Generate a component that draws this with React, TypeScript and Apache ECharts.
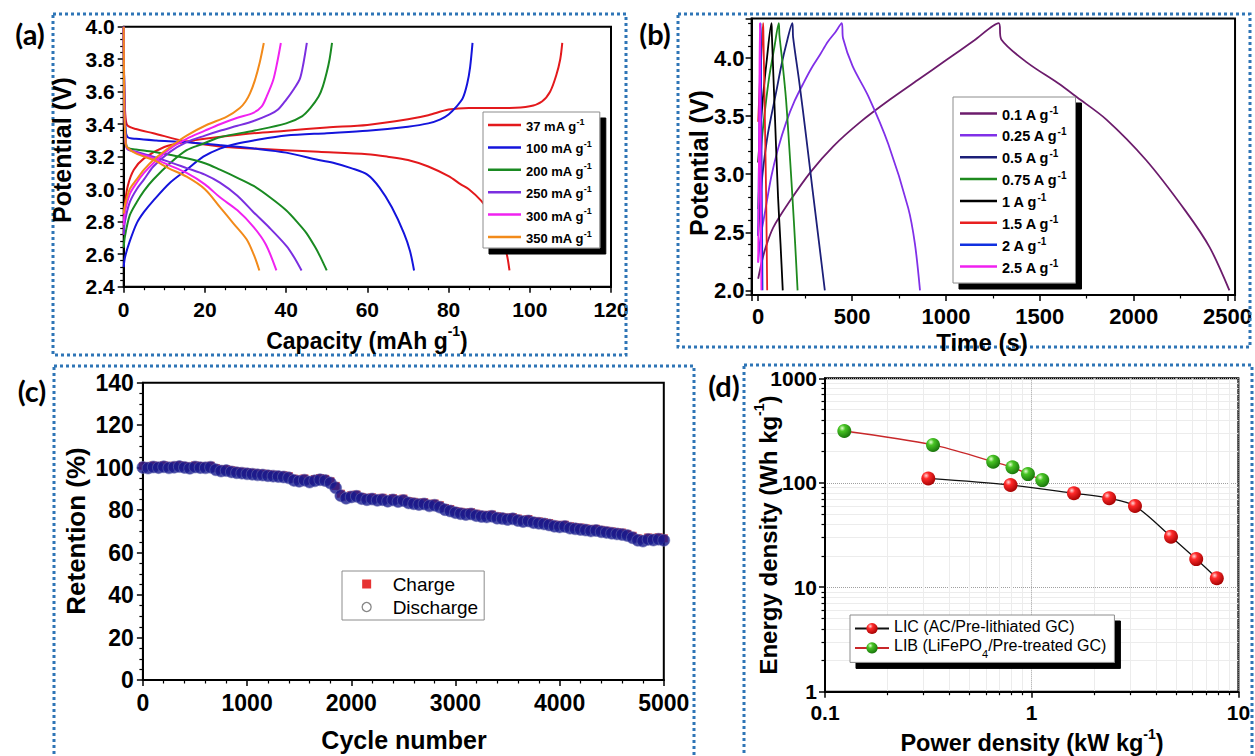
import React, { useEffect, useRef } from 'react';
import * as echarts from 'echarts';

// ---------------- (a) capacity curves ----------------
const capNames = ['37 mA g', '100 mA g', '200 mA g', '250 mA g', '300 mA g', '350 mA g'];
const charge37 = [[0,2.72],[0.3,2.9],[1,3.02],[2.5,3.12],[5,3.19],[10,3.26],[15,3.29],[20,3.31],[30,3.34],[40,3.36],[50,3.38],[60,3.395],[70,3.43],[75,3.455],[80,3.49],[85,3.5],[95,3.5],[100,3.51],[103,3.54],[105,3.6],[106.5,3.7],[107.5,3.8],[108,3.9]];
const discharge37 = [[0,4.0],[0.15,3.6],[0.5,3.43],[1,3.39],[3,3.37],[7.3,3.344],[15.5,3.293],[23.7,3.262],[32,3.25],[48,3.23],[60,3.215],[65,3.2],[70,3.18],[75,3.14],[80,3.08],[83,3.03],[85,3.0],[88,2.93],[90,2.86],[92,2.77],[93.5,2.68],[94.5,2.58],[95,2.5]];
const charge100 = [[0,2.52],[0.3,2.58],[1.5,2.68],[3.2,2.79],[5,2.86],[7.3,2.93],[11.4,3.04],[15.5,3.12],[19.6,3.2],[23.7,3.25],[27.8,3.28],[32,3.3],[40,3.33],[50,3.345],[60,3.36],[70,3.385],[75,3.405],[78,3.43],[80,3.46],[82,3.51],[83.5,3.56],[84.6,3.65],[85.3,3.75],[85.9,3.9]];
const discharge100 = [[0,4.0],[0.15,3.6],[0.5,3.36],[1,3.32],[3,3.31],[8,3.3],[15,3.29],[24,3.27],[32,3.25],[40,3.225],[48,3.18],[52,3.16],[56,3.13],[60,3.09],[63,3.01],[66,2.89],[69,2.73],[70.5,2.62],[71.5,2.5]];
const charge200 = [[0,2.64],[0.3,2.71],[1.5,2.84],[3.2,2.92],[5,2.99],[7.3,3.06],[11.4,3.16],[15.5,3.24],[19.6,3.28],[23.7,3.32],[32,3.36],[40,3.405],[44,3.45],[46,3.5],[48,3.57],[49,3.63],[50,3.72],[50.7,3.8],[51.3,3.9]];
const discharge200 = [[0,4.0],[0.15,3.55],[0.5,3.3],[1,3.255],[3,3.245],[7.3,3.23],[15.5,3.19],[20,3.16],[23.7,3.12],[28,3.07],[32,3.02],[36,2.95],[40,2.87],[43,2.79],[45,2.73],[47,2.65],[48.3,2.59],[50,2.5]];
const charge250 = [[0,2.72],[0.3,2.8],[1.5,2.92],[3.2,3.0],[5,3.06],[7.3,3.14],[11.4,3.23],[15.5,3.29],[20,3.33],[23.7,3.36],[28,3.39],[32,3.42],[36,3.46],[38,3.49],[40,3.55],[42,3.62],[43.4,3.68],[44.3,3.78],[45.1,3.9]];
const discharge250 = [[0,4.0],[0.15,3.55],[0.5,3.28],[1,3.245],[3,3.23],[7.3,3.2],[11,3.17],[15.5,3.13],[20,3.09],[23.7,3.04],[28,2.96],[31.9,2.86],[36,2.76],[40.1,2.65],[42,2.58],[43.8,2.5]];
const charge300 = [[0,2.78],[0.3,2.86],[1.5,2.97],[3.2,3.04],[5,3.1],[7.3,3.16],[11.4,3.25],[15.5,3.31],[20,3.36],[23.7,3.4],[28,3.44],[31.9,3.47],[34,3.51],[35.2,3.57],[36.8,3.67],[37.8,3.78],[38.7,3.9]];
const discharge300 = [[0,4.0],[0.15,3.55],[0.5,3.28],[1,3.25],[3,3.225],[7.3,3.19],[11,3.15],[15.5,3.1],[20,3.03],[23.7,2.95],[28,2.87],[31.9,2.77],[35,2.66],[37.6,2.5]];
const charge350 = [[0,2.85],[0.3,2.9],[1.5,3.0],[3.2,3.06],[5,3.12],[7.3,3.18],[11.4,3.26],[15.5,3.33],[20.4,3.395],[25.4,3.446],[28.6,3.5],[30,3.54],[31.1,3.59],[32.3,3.67],[33.5,3.78],[34.5,3.9]];
const discharge350 = [[0,4.0],[0.15,3.5],[0.5,3.28],[0.74,3.26],[3,3.22],[7.3,3.18],[11,3.13],[15.5,3.077],[20,3.0],[23.7,2.89],[27,2.79],[30.3,2.69],[32.3,2.58],[33.4,2.5]];
const capCharge = [charge37, charge100, charge200, charge250, charge300, charge350];
const capDischarge = [discharge37, discharge100, discharge200, discharge250, discharge300, discharge350];
const capColors = ['#e3191c', '#1414dc', '#1a8a22', '#7b2fe0', '#f022f0', '#f28a1a'];

// ---------------- (b) charge/discharge vs time ----------------
const timeNames = ['0.1 A g', '0.25 A g', '0.5 A g', '0.75 A g', '1 A g', '1.5 A g', '2 A g', '2.5 A g'];
const gcd01 = [[0,2.1],[20,2.25],[40,2.37],[80,2.54],[165,2.76],[280,3.02],[400,3.24],[545,3.45],[700,3.64],[850,3.81],[1000,3.98],[1150,4.15],[1281,4.3],[1295,4.16],[1433,3.96],[1600,3.78],[1700,3.66],[1855,3.47],[2067,3.12],[2278,2.68],[2405,2.37],[2510,2.0]];
const gcd025 = [[0,2.24],[12,2.45],[35,2.66],[70,2.98],[106,3.22],[150,3.45],[194,3.63],[240,3.78],[283,3.91],[330,4.03],[371,4.14],[410,4.22],[445,4.3],[452,4.17],[503,3.93],[587,3.67],[693,3.26],[799,2.71],[835,2.4],[862,2.0]];
const gcd05 = [[0,2.47],[8,2.7],[20,2.95],[35,3.16],[52,3.35],[71,3.51],[95,3.7],[124,3.94],[150,4.12],[182,4.3],[186,4.18],[220,3.78],[255,3.33],[290,2.86],[325,2.4],[355,2.0]];
const gcd075 = [[0,2.7],[8,3.0],[20,3.3],[40,3.6],[60,3.85],[85,4.08],[110,4.3],[113,4.2],[130,3.95],[148,3.65],[165,3.25],[183,2.79],[197,2.4],[210,2.0]];
const gcd1 = [[0,3.1],[10,3.35],[25,3.65],[45,3.97],[71,4.3],[73,4.2],[88,3.55],[106,2.8],[119,2.4],[131,2.0]];
const gcd15 = [[0,3.45],[8,3.75],[16,4.0],[26.5,4.3],[28,4.2],[36,3.45],[43,2.75],[48,2.0]];
const gcd2 = [[0,2.47],[4,3.1],[8,3.7],[13,4.3],[14,4.2],[18,3.2],[23,2.0]];
const gcd25 = [[0,2.24],[3,2.9],[6,3.6],[9,4.3],[10,4.2],[13,3.2],[17,2.0]];
const gcdCurves = [gcd01, gcd025, gcd05, gcd075, gcd1, gcd15, gcd2, gcd25];
const timeColors = ['#6c1c6c', '#8030e8', '#1c1f78', '#1e8a1e', '#000000', '#e82020', '#1030e0', '#f020f0'];

// ---------------- (c) cycling retention ----------------
const cycles = [0,50,100,150,200,250,300,350,400,450,500,550,600,650,700,750,800,850,900,950,1000,1050,1100,1150,1200,1250,1300,1350,1400,1450,1500,1550,1600,1650,1700,1750,1800,1850,1900,1950,2000,2050,2100,2150,2200,2250,2300,2350,2400,2450,2500,2550,2600,2650,2700,2750,2800,2850,2900,2950,3000,3050,3100,3150,3200,3250,3300,3350,3400,3450,3500,3550,3600,3650,3700,3750,3800,3850,3900,3950,4000,4050,4100,4150,4200,4250,4300,4350,4400,4450,4500,4550,4600,4650,4700,4750,4800,4850,4900,4950,5000];
const chargeRetention = [100.8,100.6,101.0,100.7,101.1,100.6,100.9,101.2,100.8,100.5,101.0,100.8,100.6,100.9,99.8,99.2,99.3,98.8,98.4,98.1,97.9,97.6,97.4,97.2,97.0,96.7,96.5,96.4,96.0,94.8,94.5,94.9,94.0,94.6,95.1,94.7,93.6,91.4,87.7,86.4,87.0,87.3,86.2,85.7,86.0,85.4,85.8,85.0,85.6,84.9,85.4,84.2,83.9,83.4,83.7,82.9,83.1,82.3,81.0,80.5,79.6,79.2,78.8,79.0,78.3,77.8,77.7,77.9,77.1,76.8,76.5,76.7,76.0,75.4,75.8,74.9,74.7,74.3,73.9,73.2,73.0,73.1,72.4,72.0,71.8,71.4,71.1,71.2,70.7,70.3,70.0,69.6,69.4,68.8,67.9,66.7,66.3,67.1,66.8,67.2,66.7];
const dischargeRetention = [100.1,99.8,100.3,100.0,100.4,99.9,100.2,100.5,100.1,99.7,100.3,100.0,99.9,100.2,99.0,98.4,98.6,98.0,97.6,97.4,97.1,96.9,96.6,96.5,96.2,96.0,95.8,95.6,95.2,94.0,93.6,94.1,93.2,93.8,94.3,93.9,92.8,90.5,86.8,85.6,86.2,86.5,85.4,84.9,85.2,84.6,84.9,84.2,84.8,84.0,84.5,83.4,83.0,82.6,82.9,82.0,82.3,81.4,80.2,79.6,78.8,78.3,77.9,78.2,77.4,77.0,76.8,77.1,76.2,76.0,75.6,75.9,75.1,74.6,74.9,74.1,73.8,73.5,73.0,72.4,72.1,72.3,71.5,71.2,70.9,70.6,70.2,70.4,69.8,69.5,69.1,68.8,68.5,68.0,67.0,65.8,65.4,66.2,65.9,66.3,65.8];

// ---------------- (d) Ragone plot ----------------
const licName = 'LIC (AC/Pre-lithiated GC)';
const libName = 'LIB (LiFePO4/Pre-treated GC)';
const licPower = [0.316, 0.79, 1.6, 2.37, 3.16, 4.72, 6.25, 7.86];
const licEnergy = [110, 95.2, 79.3, 71, 59.9, 30.5, 18.6, 12.2];
const libPower = [0.124, 0.333, 0.651, 0.807, 0.959, 1.125];
const libEnergy = [313, 230, 159, 140.6, 121, 106];

const FONT = '"Liberation Sans", Arial, Helvetica, sans-serif';
const LABEL_FONT = 'Lato, "Open Sans", "Liberation Sans", sans-serif';

function axis(gridIndex: number, o: any) {
  return {
    type: o.type || 'value',
    gridIndex,
    min: o.min,
    max: o.max,
    interval: o.interval,
    logBase: o.logBase,
    axisLine: { show: true, onZero: false, lineStyle: { color: '#000', width: 2 } },
    axisTick: { show: true, inside: false, length: 6, lineStyle: { color: '#000', width: 1.5 } },
    minorTick: { show: true, splitNumber: o.minor, length: 3.5, lineStyle: { color: '#000', width: 1.2 } },
    splitLine: o.splitLine || { show: false },
    minorSplitLine: o.minorSplitLine || { show: false },
    axisLabel: {
      color: '#000',
      fontFamily: FONT,
      fontWeight: 'bold',
      fontSize: o.fontSize,
      margin: o.margin,
      formatter: o.formatter,
      showMinLabel: o.showMin,
      showMaxLabel: o.showMax,
    },
  };
}

const supRich = (size: number, lh: number, sup: number) => ({
  t: { fontFamily: FONT, fontWeight: 'bold', fontSize: size, lineHeight: lh, verticalAlign: 'bottom', color: '#000', fill: '#000' },
  s: { fontFamily: FONT, fontWeight: 'bold', fontSize: sup, lineHeight: sup, verticalAlign: 'top', color: '#000', fill: '#000' },
});

function titleText(x: number, y: number, text: string, size: number, rotate: boolean, sup = 14) {
  return {
    type: 'text',
    x,
    y,
    rotation: rotate ? Math.PI / 2 : 0,
    z: 50,
    silent: true,
    style: {
      text,
      align: 'center',
      verticalAlign: 'middle',
      textAlign: 'center',
      textVerticalAlign: 'middle',
      fill: '#000',
      rich: supRich(size, size + 5, sup),
    },
  };
}

function panelLabel(x: number, y: number, text: string) {
  return {
    type: 'text', x, y, z: 50, silent: true,
    style: { text, align: 'center', verticalAlign: 'middle', textAlign: 'center', textVerticalAlign: 'middle', fill: '#000', font: `bold 29px ${LABEL_FONT}` },
  };
}

function border(x: number, y: number, w: number, h: number) {
  return {
    type: 'rect', z: 1, silent: true,
    shape: { x, y, width: w, height: h },
    style: { fill: 'none', stroke: '#2e75b6', lineWidth: 3, lineDash: [3, 3] },
  };
}

function ball(light: string, mid: string, dark: string) {
  return {
    type: 'radial', x: 0.35, y: 0.3, r: 0.75,
    colorStops: [{ offset: 0, color: light }, { offset: 0.3, color: mid }, { offset: 1, color: dark }],
  };
}

const numFmt = (v: number) => `${+Number(v).toPrecision(6)}`;

function buildOption() {
  const series: any[] = [];
  capNames.forEach((n, i) => {
    [capCharge[i], capDischarge[i]].forEach((d) => {
      series.push({
        type: 'line', name: n, xAxisIndex: 0, yAxisIndex: 0, data: d, symbol: 'none', smooth: 0.3,
        lineStyle: { color: capColors[i], width: 2 }, itemStyle: { color: capColors[i] },
      });
    });
  });
  timeNames.forEach((n, i) => {
    series.push({
      type: 'line', name: n, xAxisIndex: 1, yAxisIndex: 1, data: gcdCurves[i], symbol: 'none', smooth: 0.3,
      lineStyle: { color: timeColors[i], width: 1.8 }, itemStyle: { color: timeColors[i] },
    });
  });
  series.push({
    type: 'scatter', name: 'Charge', xAxisIndex: 2, yAxisIndex: 2, symbol: 'rect', symbolSize: 8,
    data: cycles.map((c, i) => [c, chargeRetention[i]]), itemStyle: { color: '#e00000' },
  });
  series.push({
    type: 'scatter', name: 'Discharge', xAxisIndex: 2, yAxisIndex: 2, symbol: 'circle', symbolSize: 12,
    data: cycles.map((c, i) => [c, dischargeRetention[i]]),
    itemStyle: { color: '#161a8e', borderColor: '#6a6db0', borderWidth: 0.7 },
  });
  series.push({
    type: 'line', name: licName, xAxisIndex: 3, yAxisIndex: 3, smooth: 0.3, symbol: 'circle', symbolSize: 14,
    data: licPower.map((p, i) => [p, licEnergy[i]]),
    lineStyle: { color: '#111', width: 1.3 }, itemStyle: { color: ball('#ffd6d6', '#ff2a2a', '#a00000') }, z: 3,
  });
  series.push({
    type: 'line', name: libName, xAxisIndex: 3, yAxisIndex: 3, smooth: 0.3, symbol: 'circle', symbolSize: 14,
    data: libPower.map((p, i) => [p, libEnergy[i]]),
    lineStyle: { color: '#c8282a', width: 1.3 }, itemStyle: { color: ball('#e4ffd0', '#48c424', '#16700a') }, z: 3,
  });

  const legendBase = {
    orient: 'vertical', selectedMode: false, backgroundColor: '#fff', borderColor: '#8c8c8c', borderWidth: 1,
  };
  const shadow = { shadowColor: '#000', shadowOffsetX: 6, shadowOffsetY: 6, shadowBlur: 0 };

  return {
    animation: false,
    backgroundColor: '#fff',
    grid: [
      { left: 123.7, top: 26.7, width: 487.3, height: 260, show: true, borderColor: '#000', borderWidth: 2 },
      { left: 751.6, top: 18.5, width: 486.4, height: 276.5, show: true, borderColor: '#000', borderWidth: 2 },
      { left: 142.9, top: 382.7, width: 520.9, height: 297.3, show: true, borderColor: '#000', borderWidth: 2 },
      { left: 825, top: 378.3, width: 413.4, height: 313.4, show: true, borderColor: '#000', borderWidth: 2 },
    ],
    xAxis: [
      axis(0, { min: 0, max: 120, interval: 20, minor: 4, fontSize: 21, margin: 12, formatter: numFmt }),
      axis(1, { min: -35, max: 2540, minor: 2, fontSize: 22, margin: 10, formatter: numFmt, showMin: false, showMax: false }),
      axis(2, { min: 0, max: 5000, interval: 1000, minor: 5, fontSize: 23, margin: 11, formatter: numFmt }),
      axis(3, {
        type: 'log', logBase: 10, min: 0.1, max: 10, minor: 9, fontSize: 21, margin: 10, formatter: numFmt,
        splitLine: { show: true, lineStyle: { color: '#a0a0a0', type: 'dotted', width: 1 } },
        minorSplitLine: { show: true, lineStyle: { color: '#ececec', width: 1 } },
      }),
    ],
    yAxis: [
      axis(0, { min: 2.4, max: 4.0, interval: 0.2, minor: 5, fontSize: 21, margin: 9, formatter: (v: number) => v.toFixed(1) }),
      axis(1, { min: 1.96, max: 4.34, minor: 5, fontSize: 22, margin: 7, formatter: (v: number) => v.toFixed(1), showMin: false, showMax: false }),
      axis(2, { min: 0, max: 140, interval: 20, minor: 4, fontSize: 23, margin: 9, formatter: numFmt }),
      axis(3, {
        type: 'log', logBase: 10, min: 1, max: 1000, minor: 9, fontSize: 21, margin: 8, formatter: numFmt,
        splitLine: { show: true, lineStyle: { color: '#a0a0a0', type: 'dotted', width: 1 } },
        minorSplitLine: { show: true, lineStyle: { color: '#ececec', width: 1 } },
      }),
    ],
    legend: [
      {
        ...legendBase, ...shadow, left: 483, top: 112, padding: [5, 8, 3, 5], icon: 'rect', itemWidth: 33, itemHeight: 2.5, itemGap: 6.4,
        data: capNames, formatter: (n: string) => `{t|${n}}{s|-1}`,
        textStyle: { fontFamily: FONT, fontWeight: 'bold', fontSize: 13, color: '#000', rich: supRich(13, 16, 9) },
      },
      {
        ...legendBase, ...shadow, left: 953, top: 97, padding: [8, 9, 8, 7], icon: 'rect', itemWidth: 37, itemHeight: 2.5, itemGap: 4.86,
        data: timeNames, formatter: (n: string) => `{t|${n}}{s|-1}`,
        textStyle: { fontFamily: FONT, fontWeight: 'bold', fontSize: 14.5, color: '#000', rich: supRich(14.5, 17, 10) },
      },
      {
        ...legendBase, left: 342, top: 571, padding: [3, 6, 3, 19.5], itemWidth: 9, itemHeight: 9, itemGap: 3,
        data: [
          { name: 'Charge', icon: 'rect' },
          { name: 'Discharge', icon: 'circle', itemStyle: { color: '#fff', borderColor: '#6a6a6a', borderWidth: 1.3 } },
        ],
        textStyle: { fontFamily: FONT, fontSize: 19, lineHeight: 20, color: '#000', padding: [0, 0, 0, 16.5] },
      },
      {
        ...legendBase, ...shadow, left: 850, top: 615, padding: [3, 8, 3, 4], itemWidth: 34, itemHeight: 14, itemGap: 3.3,
        data: [licName, libName],
        formatter: (n: string) => (n === libName ? '{t|LIB (LiFePO}{b|4}{t|/Pre-treated GC)}' : `{t|${n}}`),
        textStyle: {
          fontFamily: FONT, fontSize: 16, color: '#000',
          rich: {
            t: { fontFamily: FONT, fontSize: 16, lineHeight: 21, verticalAlign: 'top', color: '#000' },
            b: { fontFamily: FONT, fontSize: 11, lineHeight: 10, padding: [11, 0, 0, 0], verticalAlign: 'top', color: '#000' },
          },
        },
      },
    ],
    graphic: [
      border(53, 14, 573, 341),
      border(678, 14, 572, 333),
      border(54, 366, 640, 400),
      border(744, 365, 508, 400),
      panelLabel(30, 33, '(a)'),
      panelLabel(655, 33, '(b)'),
      panelLabel(32, 390, '(c)'),
      panelLabel(724, 385, '(d)'),
      titleText(59, 150, '{t|Potential (V)}', 25, true),
      titleText(367, 338, '{t|Capacity (mAh g}{s|-1}{t|)}', 23, false),
      titleText(696, 163, '{t|Potential (V)}', 25, true),
      titleText(982, 340, '{t|Time (s)}', 24, false),
      titleText(73, 531, '{t|Retention (%)}', 26, true),
      titleText(404, 737, '{t|Cycle number}', 25, false),
      titleText(766, 535, '{t|Energy density (Wh kg}{s|-1}{t|)}', 24, true),
      titleText(1032, 741, '{t|Power density (kW kg}{s|-1}{t|)}', 23.5, false),
    ],
    series,
  };
}

export default function App() {
  const ref = useRef<HTMLDivElement>(null);
  useEffect(() => {
    document.body.style.margin = '0';
    const chart = echarts.init(ref.current as HTMLDivElement, null, { renderer: 'svg', width: 1255, height: 756 });
    chart.setOption(buildOption() as any);
    return () => chart.dispose();
  }, []);
  return <div ref={ref} style={{ width: 1255, height: 756, background: '#fff' }} />;
}
